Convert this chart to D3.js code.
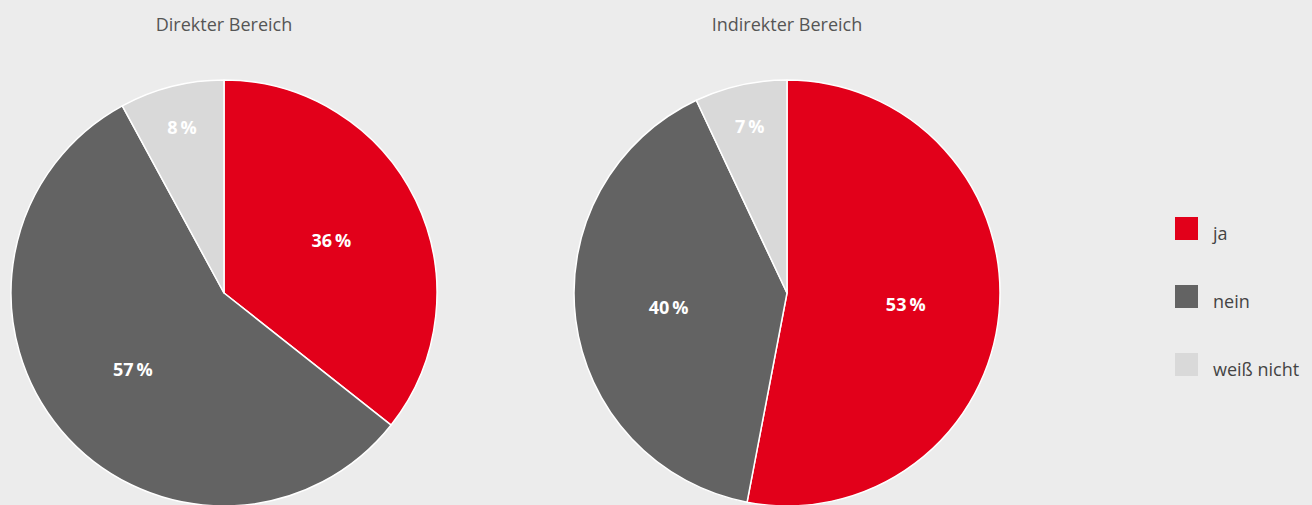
<!DOCTYPE html>
<html>
<head>
<meta charset="utf-8">
<script src="https://cdn.jsdelivr.net/npm/d3@7"></script>
<style>
  html, body { margin: 0; padding: 0; background: #ececec; overflow: hidden; }
  svg { display: block; font-family: "Open Sans", "Noto Sans", sans-serif; }
</style>
</head>
<body>
<svg id="drawing_region"></svg>
<script>
var Categories = ['ja', 'nein', 'weiß nicht'];
var Colors = ['#e2001a', '#636363', '#d9d9d9'];
var Titles = ['Direkter Bereich', 'Indirekter Bereich'];
var DirektValues = [36, 57, 8];
var IndirektValues = [53, 40, 7];

var Config = {
    parent: '#drawing_region',
    width: 1312,
    height: 505,
    radius: 213,
    centers: [{ x: 224, y: 293 }, { x: 787, y: 293 }]
};

class PieChart {
    constructor(config, title, values, center) {
        this.config = config;
        this.title = title;
        this.values = values;
        this.center = center;
        this.init();
    }

    init() {
        let self = this;
        self.svg = d3.select(self.config.parent);
        self.chart = self.svg.append('g')
            .attr('transform', `translate(${self.center.x}, ${self.center.y})`);
        self.color = d3.scaleOrdinal().domain(Categories).range(Colors);
    }

    render() {
        let self = this;
        const r = self.config.radius;

        const pie = d3.pie()
            .sort(null)
            .value(d => d.value);

        const data = pie(self.values.map((v, i) => ({ key: Categories[i], value: v })));

        const arc = d3.arc().innerRadius(0).outerRadius(r);

        self.chart.selectAll('path')
            .data(data)
            .join('path')
            .attr('d', arc)
            .attr('fill', d => self.color(d.data.key))
            .attr('stroke', '#ffffff')
            .attr('stroke-width', 1.5)
            .attr('stroke-linejoin', 'round');

        // small slices get their label further out
        const labelArc = d => {
            const lr = d.data.value < 10 ? r * 0.8 : r * 0.56;
            return d3.arc().innerRadius(lr).outerRadius(lr).centroid(d);
        };

        self.chart.selectAll('text.value')
            .data(data)
            .join('text')
            .attr('class', 'value')
            .attr('x', d => labelArc(d)[0])
            .attr('y', d => labelArc(d)[1])
            .attr('text-anchor', 'middle')
            .attr('dy', '0.35em')
            .attr('fill', '#ffffff')
            .attr('font-weight', 'bold')
            .attr('font-size', 18)
            .text(d => d.data.value + '\u2009%');

        self.chart.append('text')
            .attr('x', 0)
            .attr('y', 31 - self.center.y)
            .attr('text-anchor', 'middle')
            .attr('fill', '#555555')
            .attr('font-size', 18)
            .text(self.title);
    }
}

d3.select(Config.parent)
    .attr('width', Config.width)
    .attr('height', Config.height);

d3.select(Config.parent).append('rect')
    .attr('width', Config.width)
    .attr('height', Config.height)
    .attr('fill', '#ececec');

const left_pie = new PieChart(Config, Titles[0], DirektValues, Config.centers[0]);
left_pie.render();
const right_pie = new PieChart(Config, Titles[1], IndirektValues, Config.centers[1]);
right_pie.render();

// legend
const legend = d3.select(Config.parent).append('g')
    .attr('transform', 'translate(1175, 217)');

const item = legend.selectAll('g')
    .data(Categories)
    .join('g')
    .attr('transform', (d, i) => `translate(0, ${i * 68})`);

item.append('rect')
    .attr('width', 23)
    .attr('height', 23)
    .attr('fill', (d, i) => Colors[i]);

item.append('text')
    .attr('x', 38)
    .attr('y', 23)
    .attr('fill', '#444444')
    .attr('font-size', 18)
    .text(d => d);
</script>
</body>
</html>
